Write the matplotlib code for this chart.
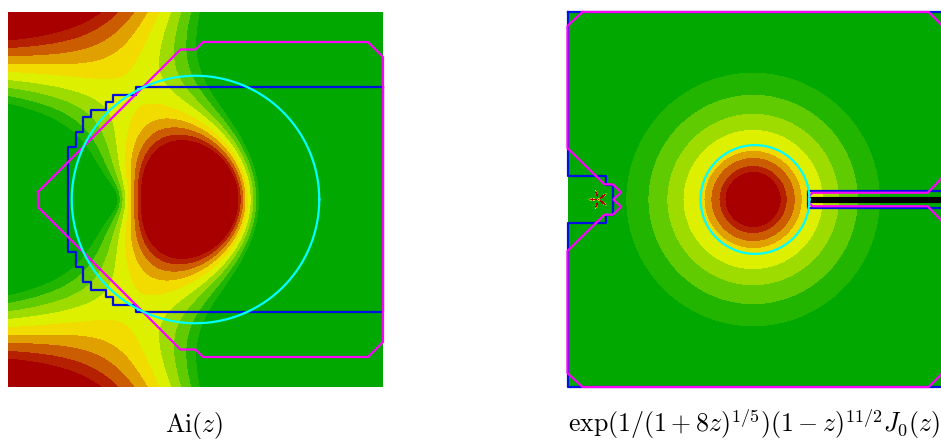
import numpy as np
import matplotlib.pyplot as plt

plt.rcParams['mathtext.fontset'] = 'cm'

# colour bands, lowest value first
band_colors = ['#00a800', '#22b500', '#60cb00', '#9edc00', '#dcf000',
               '#f2dc00', '#e0a000', '#cc5c00', '#b42000', '#a80000']

# ---- left panel: Ai(z) ----
ai_window = [-5.0, 5.0, -5.0, 5.0]
ai_degree = 5.8
ai_levels = [-2.56, -2.40, -2.23, -2.07, -1.90, -1.74, -1.58, -1.41, -1.25]
ai_circle = (0.0, 0.0, 3.3)
ai_blue_x = [5.0, -1.6, -1.6, -2.2, -2.2, -2.4, -2.4, -2.8, -2.8, -3.0, -3.0, -3.2, -3.2, -3.4,
             -3.4, -3.2, -3.2, -3.0, -3.0, -2.8, -2.8, -2.4, -2.4, -2.2, -2.2, -1.6, -1.6, 5.0, 5.0]
ai_blue_y = [3.0, 3.0, 2.8, 2.8, 2.6, 2.6, 2.4, 2.4, 2.2, 2.2, 1.8, 1.8, 1.4, 1.4,
             -1.4, -1.4, -1.8, -1.8, -2.2, -2.2, -2.4, -2.4, -2.6, -2.6, -2.8, -2.8, -3.0, -3.0, 3.0]
ai_magenta_x = [-4.2, -0.4, 0.0, 0.2, 4.6, 5.0, 5.0, 4.6, 0.2, 0.0, -0.4, -4.2, -4.2]
ai_magenta_y = [0.2, 4.0, 4.0, 4.2, 4.2, 3.8, -3.8, -4.2, -4.2, -4.0, -4.0, -0.2, 0.2]

# ---- right panel: exp(1/(1+8z)^(1/5)) (1-z)^(11/2) J0(z) ----
f_window = [-0.29, 1.71, -1.0, 1.0]
ring_center = 0.70
ring_radii = [0.150, 0.182, 0.225, 0.262, 0.294, 0.374, 0.460, 0.561, 0.679]
star_center = -0.125
star_petal_len = 0.045
star_petals = 5
star_angle0 = 180.0
cut_start = 0.99
f_circle = (0.71, 0.0, 0.29)
f_blue_x = [-0.29, 1.71, 1.71, 0.99, 0.99, 1.71, 1.71, -0.29, -0.29, -0.086, -0.086,
            -0.048, -0.048, -0.086, -0.086, -0.29, -0.29]
f_blue_y = [1.0, 1.0, 0.043, 0.043, -0.043, -0.043, -1.0, -1.0, -0.124, -0.124, -0.08,
            -0.08, 0.08, 0.08, 0.124, 0.124, 1.0]
f_magenta_x = [-0.21, 1.636, 1.71, 1.71, 1.631, 1.017, 0.997, 0.997, 1.017, 1.631, 1.71,
               1.71, 1.636, -0.21, -0.29, -0.29, -0.093, -0.048, -0.004, -0.045, -0.004,
               -0.048, -0.093, -0.29, -0.29, -0.21]
f_magenta_y = [1.0, 1.0, 0.926, 0.119, 0.036, 0.036, 0.016, -0.016, -0.036, -0.036, -0.119,
               -0.926, -1.0, -1.0, -0.926, -0.274, -0.081, -0.081, -0.038, 0.0, 0.038,
               0.081, 0.081, 0.274, 0.926, 1.0]

labels = [r'$\mathrm{Ai}(z)$', r'$\exp(1/(1+8z)^{1/5})(1-z)^{11/2}J_0(z)$']


def airy_ai(z, terms=70):
    # Maclaurin series of Ai
    z3 = z ** 3
    tf = np.ones_like(z)
    tg = z.copy()
    f = tf.copy()
    g = tg.copy()
    for k in range(terms):
        tf = tf * z3 / ((3 * k + 2) * (3 * k + 3))
        tg = tg * z3 / ((3 * k + 3) * (3 * k + 4))
        f = f + tf
        g = g + tg
    return 0.355028053887817 * f - 0.258819403792807 * g


fig = plt.figure(figsize=(9.41, 4.41), dpi=100)
ax1 = fig.add_axes([8 / 941, 54 / 441, 375 / 941, 375 / 441])
ax2 = fig.add_axes([567.5 / 941, 54 / 441, 375 / 941, 375 / 441])

# left field
x = np.linspace(ai_window[0], ai_window[1], 700)
y = np.linspace(ai_window[2], ai_window[3], 700)
X, Y = np.meshgrid(x, y)
Z = X + 1j * Y
Q = np.log10(np.abs(airy_ai(Z)) + 1e-300) - ai_degree * np.log10(np.abs(Z) + 1e-9)
Q = np.clip(Q, -50, 50)
ax1.contourf(X, Y, Q, levels=ai_levels, colors=band_colors, extend='both', zorder=1)
ax1.plot(ai_blue_x, ai_blue_y, color='#0010e0', lw=1.6, zorder=3, clip_on=False)
ax1.plot(ai_magenta_x, ai_magenta_y, color='#ff00ff', lw=1.6, zorder=4, clip_on=False)
t = np.linspace(0, 2 * np.pi, 400)
ax1.plot(ai_circle[0] + ai_circle[2] * np.cos(t), ai_circle[1] + ai_circle[2] * np.sin(t),
         color='#00ffff', lw=1.6, zorder=5)
ax1.set_xlim(ai_window[0], ai_window[1])
ax1.set_ylim(ai_window[2], ai_window[3])

# right field
x = np.linspace(f_window[0], f_window[1], 1000)
y = np.linspace(f_window[2], f_window[3], 1000)
X, Y = np.meshgrid(x, y)
r_ring = np.hypot(X - ring_center, Y)
rho = np.hypot(X - star_center, Y)
th = np.arctan2(Y, X - star_center) - np.deg2rad(star_angle0)
petal = (1 + np.cos(star_petals * th)) / 2 + 0.08
r_star = ring_radii[0] * (rho / (star_petal_len * petal)) ** 8
R = np.minimum(r_ring, r_star)
ax2.contourf(X, Y, R, levels=ring_radii, colors=band_colors[::-1], extend='both', zorder=1)
ax2.plot([cut_start, f_window[1] + 0.05], [0, 0], color='black', lw=4.4,
         solid_capstyle='butt', zorder=2, clip_on=False)
ax2.plot(f_blue_x, f_blue_y, color='#0010e0', lw=1.6, zorder=3, clip_on=False)
ax2.plot(f_magenta_x, f_magenta_y, color='#ff00ff', lw=1.6, zorder=4, clip_on=False)
ax2.plot(f_circle[0] + f_circle[2] * np.cos(t), f_circle[1] + f_circle[2] * np.sin(t),
         color='#00ffff', lw=1.6, zorder=5)
ax2.set_xlim(f_window[0], f_window[1])
ax2.set_ylim(f_window[2], f_window[3])

for ax in (ax1, ax2):
    ax.set_axis_off()

fig.text(194 / 941, 1 - 432 / 441, labels[0], ha='center', va='baseline', fontsize=18.6)
fig.text(754 / 941, 1 - 432 / 441, labels[1], ha='center', va='baseline', fontsize=18.6)

fig.savefig('out.png', dpi=100)
